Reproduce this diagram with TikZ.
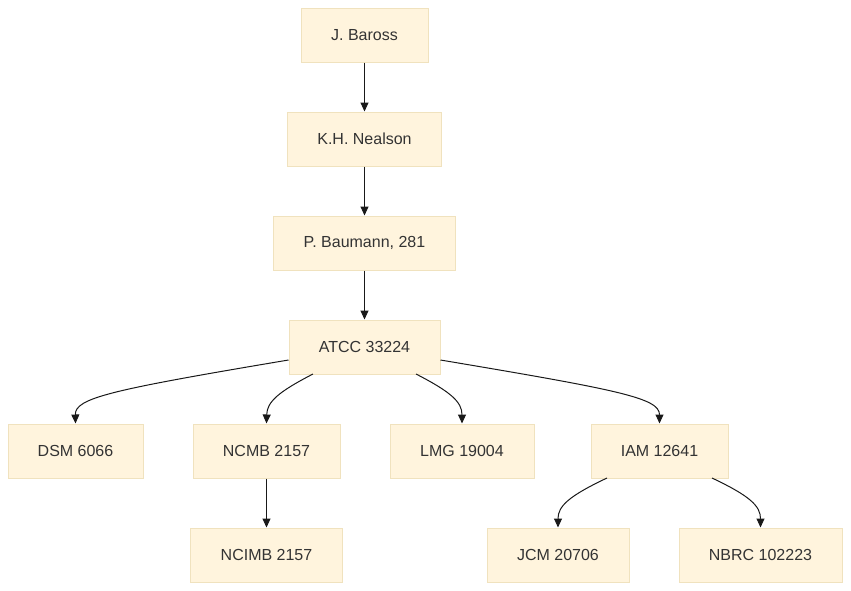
\documentclass[tikz,border=0pt]{standalone}
\usepackage{fontspec}
\setmainfont{Liberation Sans}
\usetikzlibrary{arrows.meta}
\definecolor{boxfill}{HTML}{FFF4DD}
\definecolor{boxline}{HTML}{F0E2BE}
\definecolor{txt}{HTML}{333333}
\tikzset{
  box/.style={draw=boxline, fill=boxfill, line width=1pt, minimum height=54pt, inner sep=0pt,
    text=txt, font=\fontsize{16}{19}\selectfont},
  link/.style={draw=black!90, line width=1pt, -{Triangle[length=9pt,width=8pt]}}
}
\begin{document}
\begin{tikzpicture}[x=1pt,y=-1pt]
\useasboundingbox (0,0) rectangle (851,590);
\node[box, minimum width=127pt] (baross) at (364.5,35) {J. Baross};
\node[box, minimum width=154pt] (nealson) at (364.5,139) {K.H. Nealson};
\node[box, minimum width=182pt] (baumann) at (364.5,243) {P. Baumann, 281};
\node[box, minimum width=151pt] (atcc) at (364.5,347) {ATCC 33224};
\node[box, minimum width=135pt] (dsm) at (75.5,451) {DSM 6066};
\node[box, minimum width=147pt] (ncmb) at (266.5,451) {NCMB 2157};
\node[box, minimum width=144pt] (lmg) at (462,451) {LMG 19004};
\node[box, minimum width=137pt] (iam) at (659.5,451) {IAM 12641};
\node[box, minimum width=152pt] (ncimb) at (266.5,555) {NCIMB 2157};
\node[box, minimum width=142pt] (jcm) at (558,555) {JCM 20706};
\node[box, minimum width=163pt] (nbrc) at (760.5,555) {NBRC 102223};

\draw[link] (baross) -- (nealson);
\draw[link] (nealson) -- (baumann);
\draw[link] (baumann) -- (atcc);
\draw[link] (atcc.west |- 0,360) .. controls (110,390) and (75,398) .. (dsm.north);
\draw[link] (313,374) .. controls (278,392) and (267,402) .. (ncmb.north);
\draw[link] (416,374) .. controls (451,392) and (462,402) .. (lmg.north);
\draw[link] (atcc.east |- 0,360) .. controls (619,390) and (659.5,398) .. (iam.north);
\draw[link] (ncmb) -- (ncimb);
\draw[link] (607,478) .. controls (569,496) and (558,506) .. (jcm.north);
\draw[link] (712,478) .. controls (750,496) and (760.5,506) .. (nbrc.north);
\end{tikzpicture}
\end{document}
